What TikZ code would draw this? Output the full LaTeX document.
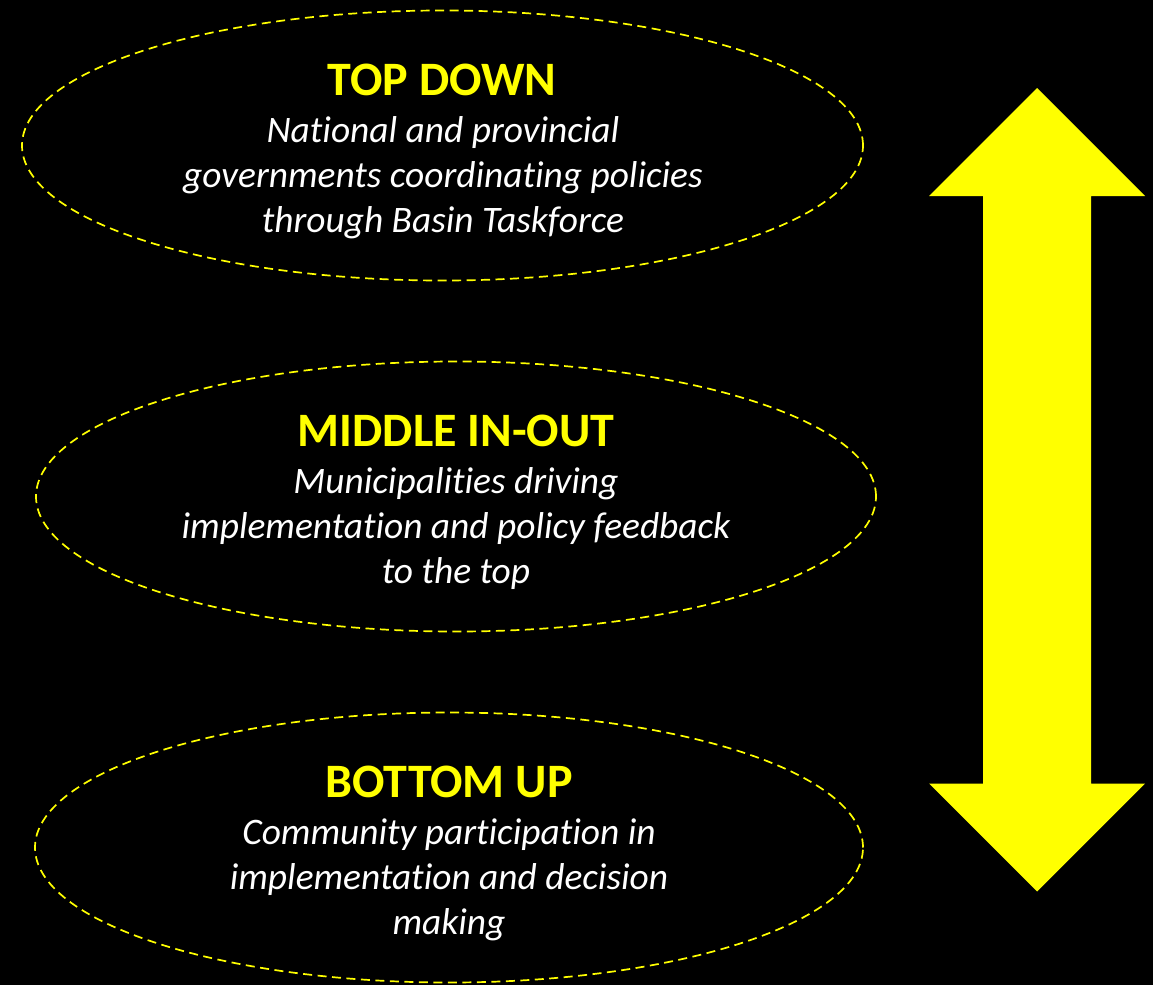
\documentclass[tikz,border=0pt]{standalone}
\usepackage{fontspec}
\setmainfont[Ligatures=NoCommon]{Carlito}
\usetikzlibrary{shapes.geometric}
\definecolor{pureyellow}{RGB}{255,255,0}
\tikzset{
 oval/.style={ellipse,draw=pureyellow,line width=1.7pt,dash pattern=on 9pt off 5.5pt,inner sep=0pt},
 head/.style={text=pureyellow,font=\fontsize{48}{52}\selectfont\bfseries,inner sep=0pt,anchor=base},
 body/.style={text=white,font=\fontsize{37.4}{40}\selectfont\itshape,inner sep=0pt,anchor=base},
}
\begin{document}
\begin{tikzpicture}[x=1pt,y=-1pt]
\path[fill=black,use as bounding box] (0,0) rectangle (1153,985);
\node[oval,minimum width=841pt,minimum height=270pt] (e1) at (442.5,145.5) {};
\node[oval,minimum width=840pt,minimum height=270pt] (e2) at (456,496.5) {};
\node[oval,minimum width=828pt,minimum height=270pt] (e3) at (449,847.5) {};
\node[head] (h1) at (442,95) {TOP DOWN};
\node[body] (a1) at (443,142) {National and provincial};
\node[body] (a2) at (443,187) {governments coordinating policies};
\node[body] (a3) at (443,232) {through Basin Taskforce};
\node[head] (h2) at (456,446) {MIDDLE IN-OUT};
\node[body] (b1) at (456,493) {Municipalities driving};
\node[body] (b2) at (456,538) {implementation and policy feedback};
\node[body] (b3) at (456,583) {to the top};
\node[head] (h3) at (449,797) {BOTTOM UP};
\node[body] (c1) at (449,844) {Community participation in};
\node[body] (c2) at (449,889) {implementation and decision};
\node[body] (c3) at (449,934) {making};
\fill[pureyellow] (1037,88) -- (1145,196) -- (1091,196) -- (1091,783.5) -- (1145,783.5) -- (1037,891.5) -- (929,783.5) -- (983,783.5) -- (983,196) -- (929,196) -- cycle;
\end{tikzpicture}
\end{document}
